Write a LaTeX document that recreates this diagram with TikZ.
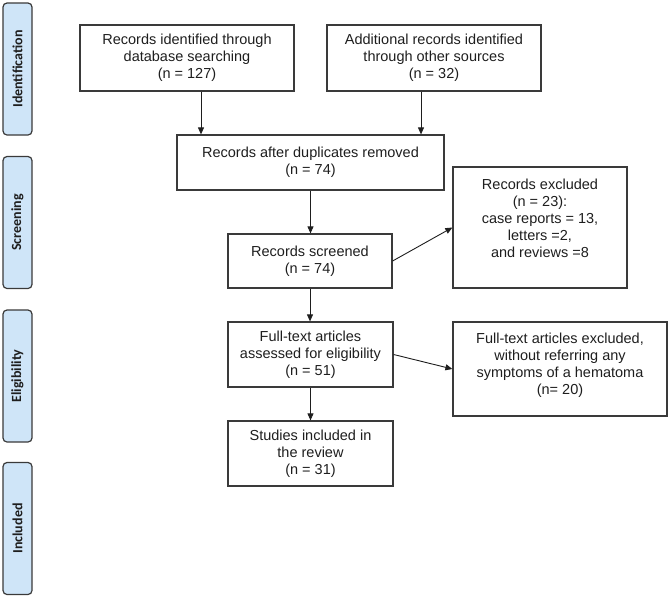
\documentclass[tikz,border=0pt]{standalone}
\usepackage{fontspec}
\setmainfont{Liberation Sans}
\newfontfamily\sidefont{Carlito}
\usetikzlibrary{arrows.meta}
\definecolor{sidefill}{HTML}{CFE5F8}
\definecolor{edge}{HTML}{3A3A3A}
\definecolor{ink}{HTML}{1E1E1E}
\begin{document}
\begin{tikzpicture}[x=1pt,y=-1pt,
  box/.style={draw=edge, line width=1.2pt, rectangle, inner sep=0pt, align=center,
    text=ink, font=\fontsize{14.5}{17}\selectfont},
  txt/.style={inner sep=0pt, align=center, text=ink, font=\fontsize{14.5}{17}\selectfont},
  side/.style={draw=edge, fill=sidefill, rounded corners=4pt, line width=1.2pt,
    rotate=90, minimum width=132pt, minimum height=29pt, inner sep=0pt,
    font=\sidefont\bfseries\fontsize{14}{16}\selectfont, text=ink},
  arr/.style={draw=ink, line width=0.9pt, -{Triangle[length=7pt,width=6pt]}}
]
\useasboundingbox (0,0) rectangle (670,600);

% side phase labels
\node[side] (sid) at (17.5,69) {Identification};
\node[side] (sscr) at (17.5,222.5) {Screening};
\node[side] (selg) at (17.5,376) {Eligibility};
\node[side] (sinc) at (17.5,528.5) {Included};

% boxes
\node[box, minimum width=214pt, minimum height=66pt] (b1) at (187,58)
  {Records identified through\\database searching\\(n = 127)};
\node[box, minimum width=214pt, minimum height=66pt] (b2) at (434,58)
  {Additional records identified\\through other sources\\(n = 32)};
\node[box, minimum width=267pt, minimum height=55pt] (b3) at (310.5,162.5)
  {Records after duplicates removed\\(n = 74)};
\node[box, minimum width=164pt, minimum height=54pt] (b4) at (310,261)
  {Records screened\\(n = 74)};
\node[box, minimum width=174pt, minimum height=121pt] (b5) at (540,227.5) {};
\node[txt] (b5t) at (540,218)
  {Records excluded\\(n = 23):\\case reports = 13,\\letters =2,\\and reviews =8};
\node[box, minimum width=165pt, minimum height=65pt] (b6) at (310.5,354.5)
  {Full-text articles\\assessed for eligibility\\(n = 51)};
\node[box, minimum width=214pt, minimum height=94pt] (b7) at (560,369) {};
\node[txt] (b7t) at (560,365)
  {Full-text articles excluded,\\without referring any\\symptoms of a hematoma\\(n= 20)};
\node[box, minimum width=165pt, minimum height=65pt] (b8) at (310.5,453.5)
  {Studies included in\\the review\\(n = 31)};

% connectors
\coordinate (c1) at ([xshift=14pt]b1.south);
\coordinate (c2) at ([xshift=-13pt]b2.south);
\draw[arr] (c1) -- (c1 |- b3.north);
\draw[arr] (c2) -- (c2 |- b3.north);
\draw[arr] (b3.south) -- (b3.south |- b4.north);
\draw[arr] (b4.east) -- (b5.west);
\draw[arr] (b4.south) -- (b4.south |- b6.north);
\draw[arr] (b6.east) -- (b7.west);
\draw[arr] (b6.south) -- (b8.north);
\end{tikzpicture}
\end{document}
